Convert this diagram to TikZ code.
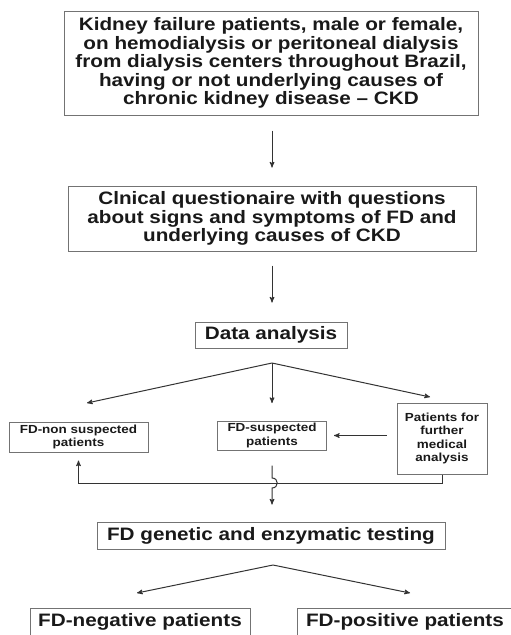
\documentclass[tikz,border=0pt]{standalone}
\usepackage{fontspec}
\newfontfamily\flowfont[FakeStretch=1.15, Ligatures=TeX]{Liberation Sans}
\usepackage{tikz}
\usetikzlibrary{arrows,calc}

\begin{document}
\begin{tikzpicture}[
		x=1pt, y=-1pt,
		>=stealth',
		flow/.style={->, draw=black!80, line width=1pt},
		bigbox/.style={draw=black!55, line width=1pt, align=center, inner sep=0pt, text=black!90,
			font=\flowfont\bfseries\fontsize{18}{18.4}\selectfont},
		smallbox/.style={bigbox, font=\flowfont\bfseries\fontsize{11.7}{13.5}\selectfont}
	]
	\useasboundingbox (0,0) rectangle (511,635);

	\node[bigbox, minimum width=414pt, minimum height=104pt] (kidney) at (271,63)
		{Kidney failure patients, male or female,\\ on hemodialysis or peritoneal dialysis\\
		 from dialysis centers throughout Brazil,\\ having or not underlying causes of\\
		 chronic kidney disease -- CKD};
	\node[bigbox, minimum width=408pt, minimum height=65pt] (quest) at (272,218.5)
		{Clnical questionaire with questions\\ about signs and symptoms of FD and\\ underlying causes of CKD};
	\node[bigbox, minimum width=152pt, minimum height=26pt] (data) at (271,335) {Data analysis};

	\node[smallbox, minimum width=139pt, minimum height=30pt] (nonsusp) at (78.5,437) {FD-non suspected\\ patients};
	\node[smallbox, minimum width=109pt, minimum height=29pt] (susp) at (272,435.5) {FD-suspected\\ patients};
	\node[smallbox, minimum width=90pt, minimum height=71pt] (further) at (442,438.5)
		{Patients for\\ further\\ medical\\ analysis};

	\node[bigbox, minimum width=348pt, minimum height=27pt] (testing) at (271,535.5) {FD genetic and enzymatic testing};
	\node[bigbox, minimum width=220pt, minimum height=27pt] (neg) at (140,621.5) {FD-negative patients};
	\node[bigbox, minimum width=216pt, minimum height=27pt] (pos) at (405,621.5) {FD-positive patients};

	\coordinate (split) at (272,363);
	\coordinate (tipnon) at (87,403);
	\coordinate (tipsusp) at (272,403);
	\coordinate (tipfur) at (430,397);
	\coordinate (bus) at (0,483);
	\coordinate (split2) at (273,565);
	\coordinate (tipneg) at (137,593);
	\coordinate (tippos) at (410,593);

	\draw[flow, shorten <=15pt, shorten >=18pt] (kidney.south -| quest) -- (quest.north);
	\draw[flow, shorten <=14pt, shorten >=19pt] (quest.south) -- (quest.south |- data.north);
	\draw[flow] (split) -- (tipnon);
	\draw[flow] (split) -- (tipsusp);
	\draw[flow] (split) -- (tipfur);
	\draw[flow, shorten <=10pt, shorten >=7pt] (further.west |- susp) -- (susp.east);
	\draw[flow, shorten >=8pt] (further.south) |- (bus -| nonsusp.south) -- (nonsusp.south);
	\draw[flow, shorten <=15pt, shorten >=17pt] (susp.south) -- ($(bus -| susp)+(0,-5)$)
		.. controls ($(bus -| susp)+(7,-5)$) and ($(bus -| susp)+(7,5)$) .. ($(bus -| susp)+(0,5)$)
		-- (testing.north -| susp);
	\draw[flow] (split2) -- (tipneg);
	\draw[flow] (split2) -- (tippos);
\end{tikzpicture}
\end{document}
